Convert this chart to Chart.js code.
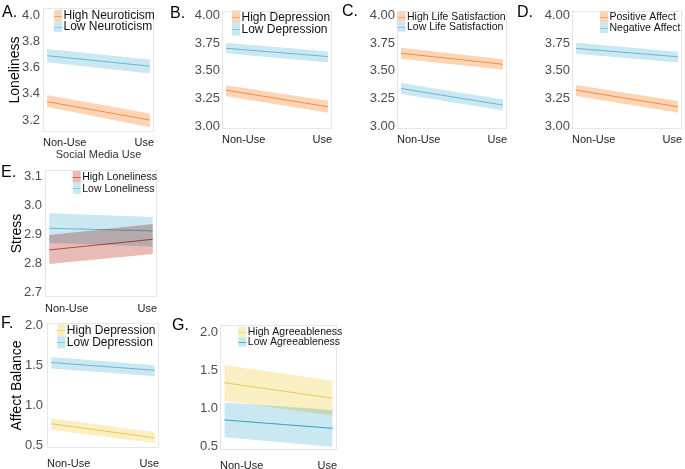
<!DOCTYPE html>
<html lang="en">
<head>
  <meta charset="UTF-8">
  <title>Social media use interactions</title>
  <script src="https://cdn.jsdelivr.net/npm/chart.js"></script>
  <style>
    body {
      margin: 0;
      background: #fff;
      width: 685px;
      height: 469px;
      position: relative;
      overflow: hidden;
      font-family: "Liberation Sans", Arial, sans-serif;
    }
    canvas { position: absolute; }
    .tag {
      position: absolute;
      font-size: 16px;
      line-height: 17px;
      color: #000;
    }
  </style>
</head>
<body>
  <canvas id="pA" width="160" height="163" style="left:0;top:0"></canvas>
  <canvas id="pB" width="148" height="150" style="left:190px;top:0"></canvas>
  <canvas id="pC" width="150" height="150" style="left:362px;top:0"></canvas>
  <canvas id="pD" width="148" height="150" style="left:537px;top:0"></canvas>
  <canvas id="pE" width="162" height="156" style="left:0;top:160px"></canvas>
  <canvas id="pF" width="165" height="157" style="left:0;top:312px"></canvas>
  <canvas id="pG" width="160" height="157" style="left:185px;top:312px"></canvas>

  <div class="tag" style="left:2px;top:3px">A.</div>
  <div class="tag" style="left:170px;top:4px">B.</div>
  <div class="tag" style="left:342px;top:2px">C.</div>
  <div class="tag" style="left:517px;top:3px">D.</div>
  <div class="tag" style="left:1px;top:163px">E.</div>
  <div class="tag" style="left:1px;top:314px">F.</div>
  <div class="tag" style="left:172px;top:316px">G.</div>

  <script>
    const useLevels = ['Non-Use', 'Use'];

    // A. loneliness x neuroticism
    const neuroHighFit = [3.34, 3.20];
    const neuroHighLci = [3.30, 3.145];
    const neuroHighUci = [3.39, 3.25];
    const neuroLowFit = [3.69, 3.61];
    const neuroLowLci = [3.64, 3.555];
    const neuroLowUci = [3.74, 3.66];

    // B. loneliness x depression
    const depHighFit = [3.325, 3.175];
    const depHighLci = [3.27, 3.12];
    const depHighUci = [3.37, 3.23];
    const depLowFit = [3.705, 3.63];
    const depLowLci = [3.66, 3.575];
    const depLowUci = [3.755, 3.675];

    // C. loneliness x life satisfaction
    const satHighFit = [3.66, 3.56];
    const satHighLci = [3.61, 3.51];
    const satHighUci = [3.71, 3.605];
    const satLowFit = [3.34, 3.19];
    const satLowLci = [3.29, 3.14];
    const satLowUci = [3.39, 3.24];

    // D. loneliness x affect
    const posFit = [3.325, 3.175];
    const posLci = [3.272, 3.121];
    const posUci = [3.372, 3.227];
    const negFit = [3.704, 3.628];
    const negLci = [3.655, 3.575];
    const negUci = [3.755, 3.674];

    // E. stress x loneliness
    const lonHighFit = [2.846, 2.883];
    const lonHighLci = [2.797, 2.832];
    const lonHighUci = [2.898, 2.936];
    const lonLowFit = [2.921, 2.912];
    const lonLowLci = [2.870, 2.858];
    const lonLowUci = [2.973, 2.960];

    // F. affect balance x depression
    const balDepHighFit = [0.774, 0.598];
    const balDepHighLci = [0.70, 0.53];
    const balDepHighUci = [0.844, 0.668];
    const balDepLowFit = [1.54, 1.443];
    const balDepLowLci = [1.464, 1.368];
    const balDepLowUci = [1.61, 1.506];

    // G. affect balance x agreeableness
    const agrHighFit = [1.34, 1.137];
    const agrHighLci = [1.104, 0.911];
    const agrHighUci = [1.573, 1.367];
    const agrLowFit = [0.851, 0.741];
    const agrLowLci = [0.622, 0.50];
    const agrLowUci = [1.08, 0.982];

    const lonelinessTicksA = [3.2, 3.4, 3.6, 3.8, 4.0];
    const lonelinessTicks = [3.00, 3.25, 3.50, 3.75, 4.00];
    const stressTicks = [2.7, 2.8, 2.9, 3.0, 3.1];
    const balanceTicks = [0.5, 1.0, 1.5, 2.0];

    const orange = { line: '#f4a56c', band: '#fdd5b5' };
    const blue = { line: '#85c9dd', band: '#c9e8f1' };
    const red = { line: '#c8625c', band: '#e9bbb6' };
    const yellow = { line: '#f1d36f', band: '#faefc2' };
    const deepBlue = { line: '#4fa9cc', band: '#c9e8f1' };

    Chart.defaults.font.family = '"Liberation Sans", Arial, sans-serif';

    function pts(vals) {
      return vals.map((y, i) => ({ x: i, y: y }));
    }

    // ribbon = upper filled down to lower, then fitted line on top
    function ribbon(label, fit, lci, uci, col) {
      return [
        { label: label + ' upper', data: pts(uci), fill: '+1', backgroundColor: col.band, borderWidth: 0, pointRadius: 0 },
        { label: label + ' lower', data: pts(lci), fill: false, borderWidth: 0, pointRadius: 0 },
        { label: label, data: pts(fit), fill: false, borderColor: col.line, borderWidth: 1, pointRadius: 0, keyColor: col.band }
      ];
    }

    const bandPlugin = {
      id: 'bands',
      beforeDatasetsDraw(chart) {
        const { ctx, chartArea: a } = chart;
        ctx.save();
        ctx.strokeStyle = '#e6e6e6';
        ctx.lineWidth = 1;
        ctx.strokeRect(Math.round(a.left) + 0.5, Math.round(a.top) + 0.5, Math.round(a.width) - 1, Math.round(a.height) - 1);
        ctx.restore();
        ctx.save();
        ctx.globalCompositeOperation = 'multiply';
      },
      afterDatasetsDraw(chart, args, opts) {
        const { ctx, chartArea: a } = chart;
        ctx.restore();
        ctx.save();
        ctx.font = opts.size + 'px "Liberation Sans", Arial, sans-serif';
        ctx.textBaseline = 'middle';
        chart.data.datasets.filter(d => d.keyColor).forEach((d, i) => {
          const x = a.left + opts.dx;
          const y = a.top + opts.dy + i * opts.gap;
          ctx.fillStyle = d.keyColor;
          ctx.fillRect(x, y - opts.gap / 2, 8, opts.gap);
          ctx.strokeStyle = d.borderColor;
          ctx.lineWidth = 1;
          ctx.beginPath();
          ctx.moveTo(x, Math.round(y) + 0.5);
          ctx.lineTo(x + 8, Math.round(y) + 0.5);
          ctx.stroke();
          ctx.fillStyle = '#111';
          ctx.fillText(d.label, x + 9.5, y + 0.5);
        });
        ctx.restore();
      }
    };

    function panel(p) {
      const el = document.getElementById(p.id);
      const x0 = parseFloat(el.style.left) || 0;
      const y0 = parseFloat(el.style.top) || 0;
      const [L, T, R, B] = p.area;
      new Chart(el, {
        type: 'line',
        data: { datasets: p.series.flat() },
        options: {
          responsive: false,
          animation: false,
          layout: { padding: { left: 0, top: T - y0, right: el.width - (R - x0), bottom: 0 } },
          plugins: {
            legend: { display: false },
            tooltip: { enabled: false },
            bands: p.legend
          },
          scales: {
            x: {
              type: 'linear',
              min: -0.04,
              max: 1.04,
              grid: { display: false, drawTicks: false },
              border: { display: false },
              afterBuildTicks: s => { s.ticks = [{ value: s.min }, { value: s.max }]; },
              afterFit: s => {
                s.height = el.height - (B - y0);
                s.paddingLeft = s.paddingRight = 0;
              },
              ticks: {
                align: 'inner',
                maxRotation: 0,
                autoSkip: false,
                padding: p.xPad,
                color: '#222',
                font: { size: 11 },
                callback: (v, i) => useLevels[i]
              },
              title: {
                display: !!p.xTitle,
                text: p.xTitle || '',
                color: '#333',
                font: { size: 11 },
                padding: { top: 0, bottom: 1.5 }
              }
            },
            y: {
              min: p.yRange[0],
              max: p.yRange[1],
              grid: { display: false, drawTicks: false },
              border: { display: false },
              afterBuildTicks: s => { s.ticks = p.yTicks.map(v => ({ value: v })); },
              afterFit: s => {
                s.width = L - x0;
                s.paddingTop = s.paddingBottom = 0;
              },
              ticks: {
                padding: p.yPad,
                color: '#4d4d4d',
                font: { size: 13 },
                callback: v => v.toFixed(p.dec)
              },
              title: {
                display: !!p.yTitle,
                text: p.yTitle || '',
                color: '#000',
                font: { size: 14 },
                padding: { top: p.yTitlePad || 0, bottom: 0 }
              }
            }
          }
        },
        plugins: [bandPlugin]
      });
    }

    panel({
      id: 'pA', area: [43, 8, 154, 132], yRange: [3.109, 4.053], yTicks: lonelinessTicksA, dec: 1,
      yTitle: 'Loneliness', yTitlePad: 7, xTitle: 'Social Media Use', xPad: 4, yPad: 3,
      legend: { dx: 11, dy: 7.5, gap: 11, size: 12 },
      series: [
        ribbon('High Neuroticism', neuroHighFit, neuroHighLci, neuroHighUci, orange),
        ribbon('Low Neuroticism', neuroLowFit, neuroLowLci, neuroLowUci, blue)
      ]
    });

    panel({
      id: 'pB', area: [222, 11, 332, 129], yRange: [2.973, 4.043], yTicks: lonelinessTicks, dec: 2,
      xPad: 4, yPad: 2,
      legend: { dx: 10, dy: 5.7, gap: 12.6, size: 12 },
      series: [
        ribbon('High Depression', depHighFit, depHighLci, depHighUci, orange),
        ribbon('Low Depression', depLowFit, depLowLci, depLowUci, blue)
      ]
    });

    panel({
      id: 'pC', area: [397, 11, 507, 129], yRange: [2.973, 4.043], yTicks: lonelinessTicks, dec: 2,
      xPad: 4, yPad: 2,
      legend: { dx: 0.5, dy: 5.7, gap: 10, size: 10.5 },
      series: [
        ribbon('High Life Satisfaction', satHighFit, satHighLci, satHighUci, orange),
        ribbon('Low Life Satisfaction', satLowFit, satLowLci, satLowUci, blue)
      ]
    });

    panel({
      id: 'pD', area: [572, 11, 682, 129], yRange: [2.973, 4.043], yTicks: lonelinessTicks, dec: 2,
      xPad: 4, yPad: 2,
      legend: { dx: 28, dy: 5.7, gap: 11, size: 10.5 },
      series: [
        ribbon('Positive Affect', posFit, posLci, posUci, orange),
        ribbon('Negative Affect', negFit, negLci, negUci, blue)
      ]
    });

    panel({
      id: 'pE', area: [45, 170, 157, 297], yRange: [2.683, 3.123], yTicks: stressTicks, dec: 1,
      yTitle: 'Stress', yTitlePad: 8.6, xPad: 5, yPad: 3,
      legend: { dx: 27.7, dy: 6.7, gap: 11.6, size: 10.5 },
      series: [
        ribbon('High Loneliness', lonHighFit, lonHighLci, lonHighUci, red),
        ribbon('Low Loneliness', lonLowFit, lonLowLci, lonLowUci, blue)
      ]
    });

    panel({
      id: 'pF', area: [47, 323, 159, 448], yRange: [0.471, 2.034], yTicks: balanceTicks, dec: 1,
      yTitle: 'Affect Balance', yTitlePad: 8.6, xPad: 9, yPad: 4,
      legend: { dx: 10.3, dy: 7, gap: 12.3, size: 12 },
      series: [
        ribbon('High Depression', balDepHighFit, balDepHighLci, balDepHighUci, yellow),
        ribbon('Low Depression', balDepLowFit, balDepLowLci, balDepLowUci, blue)
      ]
    });

    panel({
      id: 'pG', area: [220, 325, 337, 450], yRange: [0.456, 2.099], yTicks: balanceTicks, dec: 1,
      xPad: 9, yPad: 2,
      legend: { dx: 18.3, dy: 6.7, gap: 10, size: 10.5 },
      series: [
        ribbon('High Agreeableness', agrHighFit, agrHighLci, agrHighUci, yellow),
        ribbon('Low Agreeableness', agrLowFit, agrLowLci, agrLowUci, deepBlue)
      ]
    });
  </script>
</body>
</html>
